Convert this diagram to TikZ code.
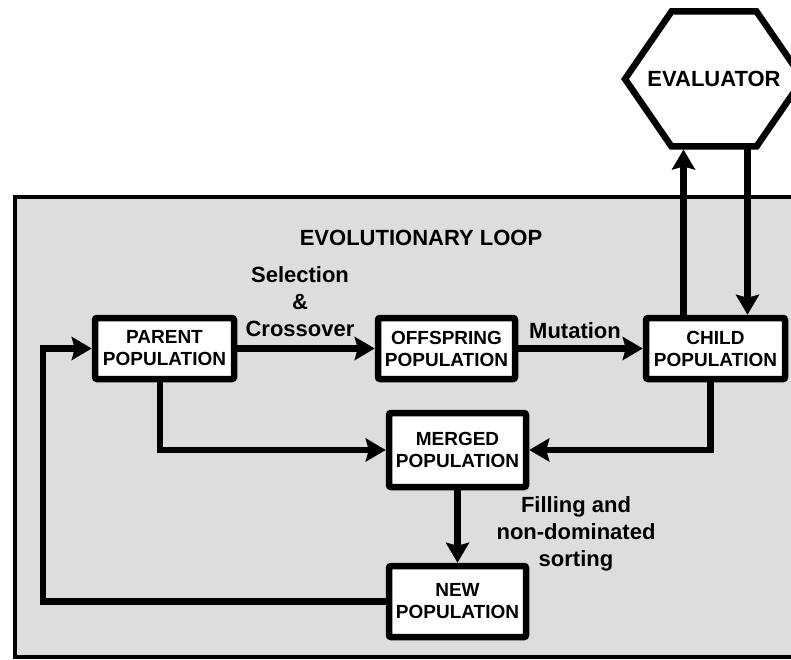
\documentclass[tikz,border=0pt]{standalone}
\usepackage{fontspec}
\setmainfont{Liberation Sans}
\usetikzlibrary{arrows.meta}
\definecolor{loopgray}{RGB}{221,221,221}
\begin{document}
\begin{tikzpicture}[x=1pt,y=-1pt,
  popbox/.style={draw, line width=6.5pt, fill=white, rounded corners=2pt,
    align=center, inner sep=2pt, font=\fontsize{19}{22}\selectfont\bfseries},
  lbl/.style={align=center, font=\fontsize{22}{27}\selectfont\bfseries},
  arr/.style={line width=6.5pt, -{Stealth[length=20pt,width=23pt,inset=3pt]}},
  plain/.style={line width=6.5pt}]
\useasboundingbox (0,0) rectangle (791,660);
\clip (0,0) rectangle (791,660);

% container of the evolutionary loop
\draw[line width=4pt, fill=loopgray] (15,197) rectangle (820,657);
\node[lbl] (looptitle) at (421,238) {EVOLUTIONARY LOOP};

% evaluator hexagon, outlined around its label node
\node[inner sep=0pt, outer sep=0pt, minimum width=178pt, minimum height=141pt,
  font=\fontsize{22}{27}\selectfont\bfseries] (eval) at (714,79) {EVALUATOR};
\draw[line width=6.5pt] (eval.center) ++(-89,0) -- ++(46.5,-67.5)
  -- ++(85,0) -- ++(46.5,67.5) -- ++(-46.5,67.5) -- ++(-85,0) -- cycle;

% population boxes
\node[popbox, minimum width=139pt, minimum height=61pt] (parent) at (164.5,348.5) {PARENT\\POPULATION};
\node[popbox, minimum width=137pt, minimum height=61pt] (offspring) at (446.5,348.5) {OFFSPRING\\POPULATION};
\node[popbox, minimum width=139pt, minimum height=61pt] (child) at (715.5,348.5) {CHILD\\POPULATION};
\node[popbox, minimum width=137pt, minimum height=74pt] (merged) at (457.5,450) {MERGED\\POPULATION};
\node[popbox, minimum width=137pt, minimum height=71pt] (new) at (457.5,601.5) {NEW\\POPULATION};

% connectors
\draw[arr] (parent.east) -- (offspring.west);
\draw[arr] (offspring.east) -- (child.west);
\draw[arr] ([xshift=-32pt]child.north) -- ([xshift=-32pt]child.north |- eval.south);
\draw[arr] ([xshift=32pt]child.north |- eval.south) -- ([xshift=32pt]child.north);
\draw[arr] ([xshift=-4.5pt]parent.south) |- (merged.west);
\draw[arr] ([xshift=-5pt]child.south) |- (merged.east);
\draw[arr] (merged.south) -- (new.north);
\coordinate (loopx) at (43,0);
\draw[arr] (new.west) -- (new.west -| loopx) |- (parent.west);

% connector labels
\node[lbl] (selcross) at (300,302) {Selection\\\&\\Crossover};
\node[lbl] (mutation) at (575,331) {Mutation};
\node[lbl] (filling) at (576,534) {Filling and\\non-dominated\\sorting};
\end{tikzpicture}
\end{document}
